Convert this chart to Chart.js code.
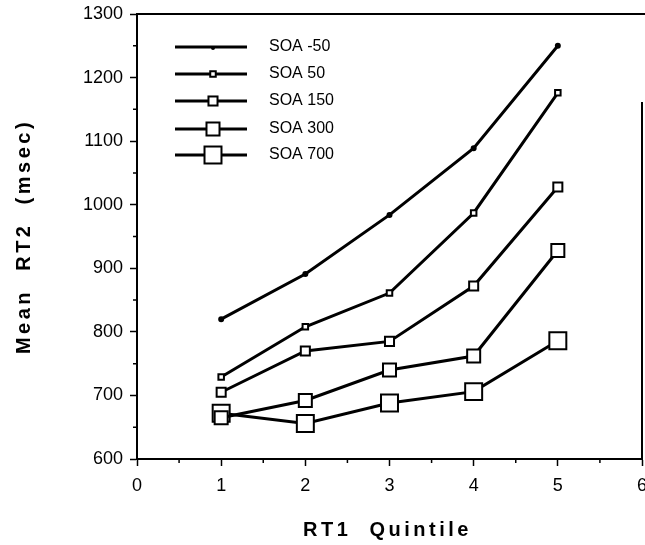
<!DOCTYPE html>
<html>
<head>
<meta charset="utf-8">
<script src="https://cdn.jsdelivr.net/npm/chart.js@4.4.1/dist/chart.umd.min.js"></script>
<style>
  html, body { margin: 0; background: #fff; overflow: hidden; }
  canvas { display: block; }
</style>
</head>
<body>
<!-- a little wider than the window: the "6" label is cut off at the edge in the original -->
<canvas id="rt-chart" width="656" height="545"></canvas>
<script>
const quintiles = [1, 2, 3, 4, 5];
const soaNeg50 = [820, 891, 984, 1089, 1250];
const soa50 = [729, 808, 861, 987, 1176];
const soa150 = [705, 770, 785, 872, 1028];
const soa300 = [665, 692, 740, 762, 928];
const soa700 = [672, 656, 688, 706, 786];
const seriesLabels = ['SOA -50', 'SOA 50', 'SOA 150', 'SOA 300', 'SOA 700'];
const xTicks = [0, 1, 2, 3, 4, 5, 6];
const yTicks = [600, 700, 800, 900, 1000, 1100, 1200, 1300];

const FONT = '"Liberation Sans", Arial, Helvetica, sans-serif';

function toPoints(values) {
  return values.map((v, i) => ({ x: quintiles[i], y: v }));
}

function makeSet(label, values, style, radius) {
  return {
    label: label,
    data: toPoints(values),
    borderColor: '#000',
    borderWidth: 3,
    pointStyle: style,
    pointRadius: radius,
    pointBorderWidth: 2,
    pointBorderColor: '#000',
    pointBackgroundColor: style === 'circle' ? '#000' : '#fff',
    tension: 0,
  };
}

function noPadding(scale) {
  scale.paddingLeft = 0;
  scale.paddingRight = 0;
  scale.paddingTop = 0;
  scale.paddingBottom = 0;
}

// frame, minor ticks, legend and spaced-out axis titles
const extras = {
  id: 'extras',
  afterDraw(chart) {
    const { ctx, chartArea: a, scales } = chart;
    ctx.save();
    ctx.strokeStyle = '#000';

    ctx.lineWidth = 2;
    ctx.beginPath();
    ctx.moveTo(a.left, a.top);
    ctx.lineTo(chart.width, a.top);
    ctx.moveTo(a.right, a.top + 88);
    ctx.lineTo(a.right, a.bottom);
    ctx.stroke();

    // minor ticks
    ctx.lineWidth = 1.5;
    ctx.beginPath();
    for (let v = 0.5; v < 6; v += 1) {
      const px = scales.x.getPixelForValue(v);
      ctx.moveTo(px, a.bottom);
      ctx.lineTo(px, a.bottom + 4);
    }
    for (let v = 650; v < 1300; v += 100) {
      const py = scales.y.getPixelForValue(v);
      ctx.moveTo(a.left, py);
      ctx.lineTo(a.left - 4, py);
    }
    ctx.stroke();

    // legend
    const rowsY = [47, 74, 101, 129, 155];
    chart.data.datasets.forEach((ds, i) => {
      const y = rowsY[i];
      ctx.lineWidth = 3;
      ctx.beginPath();
      ctx.moveTo(175, y);
      ctx.lineTo(247, y);
      ctx.stroke();
      const cx = 213;
      if (ds.pointStyle === 'circle') {
        ctx.fillStyle = '#000';
        ctx.beginPath();
        ctx.arc(cx, y + 1, ds.pointRadius, 0, Math.PI * 2);
        ctx.fill();
      } else {
        const s = Math.SQRT1_2 * ds.pointRadius;
        ctx.fillStyle = '#fff';
        ctx.lineWidth = 2;
        ctx.fillRect(cx - s, y - s, 2 * s, 2 * s);
        ctx.strokeRect(cx - s, y - s, 2 * s, 2 * s);
      }
      ctx.fillStyle = '#000';
      ctx.font = '16px ' + FONT;
      ctx.textAlign = 'left';
      ctx.textBaseline = 'middle';
      ctx.fillText(ds.label, 269, y);
    });

    // axis titles
    ctx.fillStyle = '#000';
    ctx.font = 'bold 20px ' + FONT;
    ctx.letterSpacing = '3.5px';
    ctx.textAlign = 'center';
    ctx.textBaseline = 'middle';
    ctx.fillText('RT1  Quintile', (a.left + a.right) / 2 - 2, 530);
    ctx.translate(24, (a.top + a.bottom) / 2);
    ctx.rotate(-Math.PI / 2);
    ctx.fillText('Mean  RT2  (msec)', 0, 0);
    ctx.restore();
  },
};

new Chart(document.getElementById('rt-chart'), {
  type: 'line',
  data: {
    datasets: [
      makeSet(seriesLabels[0], soaNeg50, 'circle', 2),
      makeSet(seriesLabels[1], soa50, 'rect', 3.9),
      makeSet(seriesLabels[2], soa150, 'rect', 6.4),
      makeSet(seriesLabels[3], soa300, 'rect', 9.2),
      makeSet(seriesLabels[4], soa700, 'rect', 12),
    ],
  },
  plugins: [extras],
  options: {
    responsive: false,
    animation: false,
    layout: { padding: { left: 0, right: 3, top: 14, bottom: 0 } },
    plugins: {
      legend: { display: false },
      tooltip: { enabled: false },
    },
    scales: {
      x: {
        type: 'linear',
        min: 0,
        max: 6,
        afterBuildTicks: (scale) => {
          scale.ticks = xTicks.map((v) => ({ value: v }));
        },
        afterFit: (scale) => {
          scale.height = 86;
          noPadding(scale);
        },
        ticks: {
          color: '#000',
          font: { family: FONT, size: 18 },
          padding: 9,
          maxRotation: 0,
          autoSkip: false,
          callback: (v) => String(v),
        },
        grid: {
          drawOnChartArea: false,
          tickLength: 7,
          tickWidth: 1.5,
          tickColor: '#000',
        },
        border: { color: '#000', width: 2 },
      },
      y: {
        min: 600,
        max: 1300,
        afterBuildTicks: (scale) => {
          scale.ticks = yTicks.map((v) => ({ value: v }));
        },
        afterFit: (scale) => {
          scale.width = 137;
          noPadding(scale);
        },
        ticks: {
          color: '#000',
          font: { family: FONT, size: 18 },
          padding: 7,
          autoSkip: false,
          callback: (v) => String(v),
        },
        grid: {
          drawOnChartArea: false,
          tickLength: 7,
          tickWidth: 1.5,
          tickColor: '#000',
        },
        border: { color: '#000', width: 2 },
      },
    },
  },
});
</script>
</body>
</html>
